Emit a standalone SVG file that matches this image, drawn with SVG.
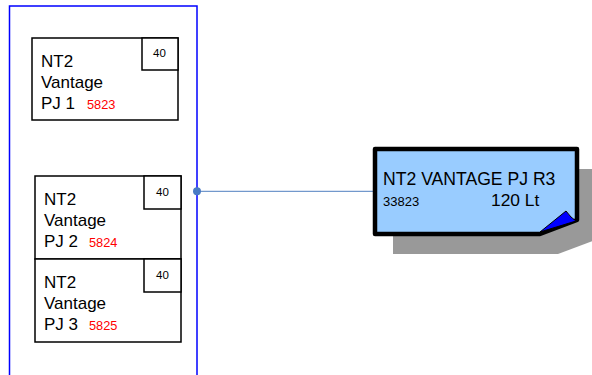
<svg xmlns="http://www.w3.org/2000/svg" width="592" height="375" viewBox="0 0 592 375">
<style>
.box{fill:#fff;stroke:#000;stroke-width:1.5}
.t{font-family:"Liberation Sans",Arial,sans-serif;font-size:17px;fill:#000}
.r{font-family:"Liberation Sans",Arial,sans-serif;font-size:12.8px;fill:#ff0000}
.s{font-family:"Liberation Sans",Arial,sans-serif;font-size:11.5px;fill:#000}
</style>
<rect width="592" height="375" fill="#fff"/>
<g id="container">
<rect x="9.5" y="6" width="187.5" height="380" fill="none" stroke="#0000ff" stroke-width="1.5"/>
</g>
<g id="node1">
<rect class="box" x="32" y="38" width="146" height="82"/>
<rect class="box" x="142" y="38" width="36" height="32"/>
<text class="s" x="153" y="57">40</text>
<text class="t" x="41" y="67">NT2</text>
<text class="t" x="41" y="88">Vantage</text>
<text class="t" x="41" y="109">PJ 1</text>
<text class="r" x="87" y="109">5823</text>
</g>
<g id="node2">
<rect class="box" x="35" y="176" width="146" height="83"/>
<rect class="box" x="144" y="176" width="37" height="33"/>
<text class="s" x="156" y="196">40</text>
<text class="t" x="44" y="205">NT2</text>
<text class="t" x="44" y="226">Vantage</text>
<text class="t" x="44" y="247">PJ 2</text>
<text class="r" x="89" y="247">5824</text>
</g>
<g id="node3">
<rect class="box" x="35" y="259" width="146" height="83"/>
<rect class="box" x="144" y="259" width="37" height="33"/>
<text class="s" x="156" y="279">40</text>
<text class="t" x="44" y="288">NT2</text>
<text class="t" x="44" y="309">Vantage</text>
<text class="t" x="44" y="330">PJ 3</text>
<text class="r" x="89" y="330">5825</text>
</g>
<g id="connectors">
<line x1="197" y1="191.3" x2="375" y2="191.3" stroke="#4f7fc0" stroke-width="1"/>
<circle cx="197" cy="191.3" r="4" fill="#4a7cc4"/>
</g>
<g id="note">
<path d="M393,169 H595 V240 L558,254 H393 Z" fill="#999999"/>
<path d="M375,149 H577 V220 L540,234 H375 Z" fill="#99ccff" stroke="#000" stroke-width="4.5" stroke-linejoin="round"/>
<path d="M540,232 L566,211 Q571,218 576,221 Z" fill="#0000ff" stroke="#000" stroke-width="1"/>
<text x="383" y="185" font-family="Liberation Sans,Arial,sans-serif" font-size="17.6" fill="#000">NT2 VANTAGE PJ R3</text>
<text x="383" y="206" font-family="Liberation Sans,Arial,sans-serif" font-size="13" fill="#000">33823</text>
<text x="491" y="206" font-family="Liberation Sans,Arial,sans-serif" font-size="17.4" fill="#000">120 Lt</text>
</g>
</svg>
